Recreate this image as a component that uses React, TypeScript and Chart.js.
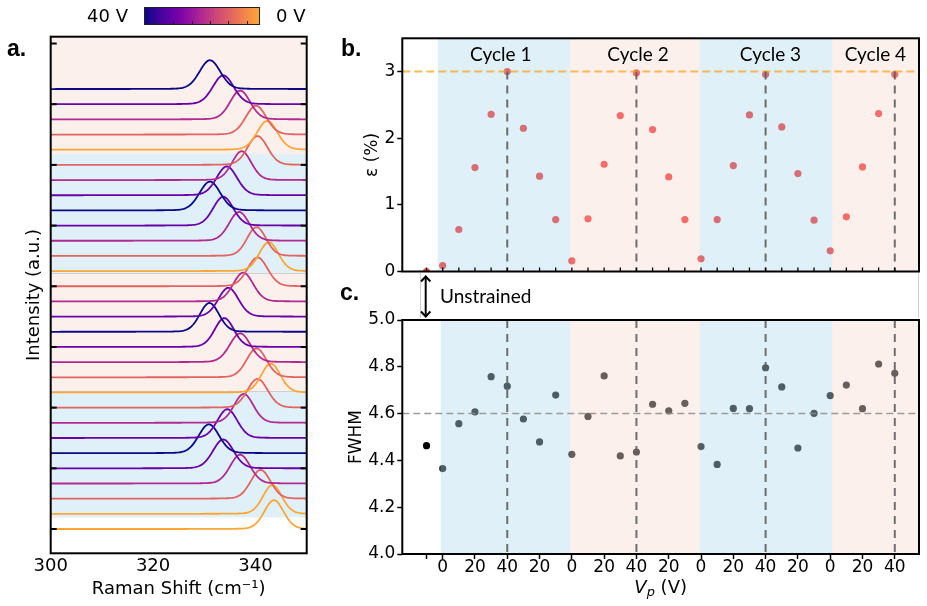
import React, { useEffect, useRef } from 'react';
import { Chart, registerables } from 'chart.js';
Chart.register(...registerables);

const FONT = '"DejaVu Sans", sans-serif';
Chart.defaults.font.family = FONT;
Chart.defaults.color = '#000';

// ---------------- data ----------------
// measurement index: -1 = unstrained reference, 0..28 = piezo sweeps (4 cycles)
const measIndex = [-1, 0, 1, 2, 3, 4, 5, 6, 7, 8, 9, 10, 11, 12, 13, 14, 15, 16, 17, 18, 19, 20, 21, 22, 23, 24, 25, 26, 27, 28];
const voltage = [0, 0, 10, 20, 30, 40, 30, 20, 10, 0, 10, 20, 30, 40, 30, 20, 10, 0, 10, 20, 30, 40, 30, 20, 10, 0, 10, 20, 30, 40];
const strain = [0, 0.09, 0.63, 1.56, 2.36, 3.0, 2.15, 1.43, 0.78, 0.16, 0.79, 1.61, 2.34, 2.98, 2.13, 1.42, 0.78, 0.19, 0.78, 1.59, 2.35, 2.96, 2.17, 1.47, 0.77, 0.31, 0.82, 1.57, 2.37, 2.96];
const fwhm = [4.463, 4.365, 4.557, 4.607, 4.758, 4.717, 4.577, 4.479, 4.679, 4.426, 4.588, 4.761, 4.419, 4.436, 4.64, 4.612, 4.644, 4.459, 4.383, 4.622, 4.621, 4.796, 4.714, 4.453, 4.601, 4.677, 4.722, 4.621, 4.812, 4.772];
const peakShift = [343.6, 343.3, 341.0, 337.0, 333.7, 330.9, 334.5, 337.7, 340.4, 343.0, 340.2, 337.0, 333.9, 331.0, 334.7, 337.6, 340.4, 342.6, 340.2, 336.8, 333.7, 331.1, 334.4, 337.3, 340.4, 342.3, 340.1, 337.0, 333.7, 331.1];
const peakAmplitude = 1.9;

const strainTicks = [0, 1, 2, 3];
const fwhmTicks = [4.0, 4.2, 4.4, 4.6, 4.8, 5.0];
const ramanTicks = [300, 320, 340];
const intensityTicks = [0, 4, 8, 12, 16, 20, 24, 28, 32];
const voltLabelTicks = [-1, 0, 2, 4, 6, 8, 10, 12, 14, 16, 18, 20, 22, 24, 26, 28];
const maxStrainLevel = 3.0;
const fwhmReference = 4.6;
const peakVoltIndex = [4, 12, 20, 28];
const cycleNames = ['Cycle 1', 'Cycle 2', 'Cycle 3', 'Cycle 4'];
const cycleLabelPos = [3.6, 12.1, 20.3, 26.8];
const bandKinds = ['blue', 'pink', 'blue', 'pink'];
const cycleBandsB = [[-0.3, 7.9], [7.9, 15.93], [15.93, 24.13], [24.13, 29.5]];
const cycleBandsC = [[-0.12, 7.9], [7.9, 15.93], [15.93, 24.13], [24.13, 29.5]];
const spectraBands = [[0.76, 9.07], [9.07, 16.88], [16.88, 24.72], [24.72, 33]];

const voltColor: Record<number, string> = { 0: '#fca636', 10: '#e16462', 20: '#b12a90', 30: '#6a00a8', 40: '#0d0887' };

const BLUE_SOLID = 'rgb(223,240,248)';
const PINK_SOLID = 'rgb(252,240,236)';
const BLUE_OVER = 'rgba(127,195,227,0.25)';
const PINK_OVER = 'rgba(243,195,179,0.25)';

// spectral sampling grid
const ramanGrid: number[] = [];
for (let x = 300; x <= 350.001; x += 0.25) ramanGrid.push(+x.toFixed(2));

function lineShape(x: number, c: number, w: number) {
  const d = (x - c) / w;
  return 0.9 * Math.exp(-4 * Math.LN2 * d * d) + 0.1 / (1 + 4 * d * d);
}

// ---------------- helpers ----------------
function frame(chart: any) {
  const { ctx, chartArea: a } = chart;
  ctx.save();
  ctx.strokeStyle = '#000';
  ctx.lineWidth = 2;
  ctx.strokeRect(a.left, a.top, a.right - a.left, a.bottom - a.top);
  ctx.restore();
}
function seg(ctx: CanvasRenderingContext2D, x1: number, y1: number, x2: number, y2: number) {
  ctx.beginPath();
  ctx.moveTo(x1, y1);
  ctx.lineTo(x2, y2);
  ctx.stroke();
}

// ---------------- panel a ----------------
const spectraPlugin = {
  id: 'spectraDecor',
  beforeDatasetsDraw(chart: any) {
    const { ctx, chartArea: a, scales: { y } } = chart;
    ctx.save();
    ctx.beginPath();
    ctx.rect(a.left, a.top, a.right - a.left, a.bottom - a.top);
    ctx.clip();
    spectraBands.forEach(([lo, hi], i) => {
      const y1 = y.getPixelForValue(hi);
      const y2 = y.getPixelForValue(lo);
      ctx.fillStyle = bandKinds[i] === 'blue' ? BLUE_SOLID : PINK_SOLID;
      ctx.fillRect(a.left, y1, a.right - a.left, y2 - y1);
    });
    ctx.strokeStyle = 'rgba(0,0,0,0.15)';
    ctx.lineWidth = 1;
    [spectraBands[1][0], spectraBands[2][0]].forEach((v) => {
      const py = Math.round(y.getPixelForValue(v)) + 0.5;
      seg(ctx, a.left, py, a.right, py);
    });
    ctx.restore();
  },
  afterDraw(chart: any) {
    const { ctx, chartArea: a, scales: { y } } = chart;
    ctx.save();
    ctx.strokeStyle = '#000';
    ctx.lineWidth = 2;
    intensityTicks.forEach((v) => {
      const py = y.getPixelForValue(v);
      seg(ctx, a.left, py, a.left + 6, py);
      seg(ctx, a.right - 6, py, a.right, py);
    });
    ctx.restore();
    frame(chart);
  },
};

// ---------------- panel b ----------------
const strainPlugin = {
  id: 'strainDecor',
  afterDatasetsDraw(chart: any) {
    const { ctx, chartArea: a, scales: { x, y } } = chart;
    ctx.save();
    ctx.beginPath();
    ctx.rect(a.left, a.top, a.right - a.left, a.bottom - a.top);
    ctx.clip();
    cycleBandsB.forEach(([lo, hi], i) => {
      const x1 = x.getPixelForValue(lo);
      const x2 = x.getPixelForValue(hi);
      ctx.fillStyle = bandKinds[i] === 'blue' ? BLUE_OVER : PINK_OVER;
      ctx.fillRect(x1, a.top, x2 - x1, a.bottom - a.top);
    });
    const y3 = y.getPixelForValue(maxStrainLevel);
    ctx.setLineDash([8, 4]);
    ctx.strokeStyle = 'rgba(245,165,35,0.75)';
    ctx.lineWidth = 2;
    seg(ctx, a.left, y3, a.right, y3);
    ctx.setLineDash([8, 6]);
    ctx.strokeStyle = 'rgba(95,95,95,0.9)';
    ctx.lineWidth = 2;
    peakVoltIndex.forEach((i) => {
      const px = x.getPixelForValue(i);
      seg(ctx, px, y3, px, a.bottom);
    });
    ctx.restore();
  },
  afterDraw(chart: any) {
    const { ctx, chartArea: a, scales: { x } } = chart;
    ctx.save();
    ctx.strokeStyle = '#000';
    ctx.lineWidth = 1.3;
    measIndex.forEach((i) => {
      const px = x.getPixelForValue(i);
      seg(ctx, px, a.bottom, px, a.bottom - 4);
    });
    ctx.fillStyle = '#000';
    ctx.font = '19px Lato, "Open Sans", sans-serif';
    ctx.textAlign = 'center';
    ctx.textBaseline = 'alphabetic';
    cycleNames.forEach((name, i) => {
      ctx.fillText(name, x.getPixelForValue(cycleLabelPos[i]), a.top + 23);
    });
    ctx.restore();
    frame(chart);
  },
};

// ---------------- panel c ----------------
const fwhmPlugin = {
  id: 'fwhmDecor',
  afterDatasetsDraw(chart: any) {
    const { ctx, chartArea: a, scales: { x, y } } = chart;
    ctx.save();
    ctx.beginPath();
    ctx.rect(a.left, a.top, a.right - a.left, a.bottom - a.top);
    ctx.clip();
    cycleBandsC.forEach(([lo, hi], i) => {
      const x1 = x.getPixelForValue(lo);
      const x2 = x.getPixelForValue(hi);
      ctx.fillStyle = bandKinds[i] === 'blue' ? BLUE_OVER : PINK_OVER;
      ctx.fillRect(x1, a.top, x2 - x1, a.bottom - a.top);
    });
    const yr = y.getPixelForValue(fwhmReference);
    ctx.setLineDash([7, 4]);
    ctx.strokeStyle = 'rgba(140,140,140,0.85)';
    ctx.lineWidth = 1.5;
    seg(ctx, a.left, yr, a.right, yr);
    ctx.setLineDash([8, 6]);
    ctx.strokeStyle = 'rgba(95,95,95,0.9)';
    ctx.lineWidth = 2;
    peakVoltIndex.forEach((i) => {
      const px = x.getPixelForValue(i);
      seg(ctx, px, a.top, px, a.bottom);
    });
    ctx.restore();
  },
  afterDraw(chart: any) {
    const { ctx, chartArea: a } = chart;
    frame(chart);
    // x-axis title: V_p (V)
    ctx.save();
    ctx.fillStyle = '#000';
    ctx.textBaseline = 'alphabetic';
    ctx.textAlign = 'left';
    const fMain = `italic 18px ${FONT}`;
    const fSub = `italic 13px ${FONT}`;
    const fRest = `18px ${FONT}`;
    ctx.font = fMain;
    const wV = ctx.measureText('V').width;
    ctx.font = fSub;
    const wP = ctx.measureText('p').width;
    ctx.font = fRest;
    const wR = ctx.measureText(' (V)').width;
    const total = wV + wP + wR;
    let cx = (a.left + a.right) / 2 - total / 2;
    const base = chart.height - 13;
    ctx.font = fMain;
    ctx.fillText('V', cx, base);
    cx += wV;
    ctx.font = fSub;
    ctx.fillText('p', cx, base + 3);
    cx += wP;
    ctx.font = fRest;
    ctx.fillText(' (V)', cx, base);
    ctx.restore();
  },
};

function useChart(ref: React.RefObject<HTMLCanvasElement>, make: () => any) {
  useEffect(() => {
    if (!ref.current) return;
    const chart = new Chart(ref.current, make());
    return () => chart.destroy();
  }, []);
}

export default function App() {
  const refA = useRef<HTMLCanvasElement>(null);
  const refB = useRef<HTMLCanvasElement>(null);
  const refC = useRef<HTMLCanvasElement>(null);

  useChart(refA, () => {
    const datasets: any[] = [];
    for (let k = peakShift.length - 1; k >= 0; k--) {
      datasets.push({
        data: ramanGrid.map((x) => ({ x, y: k + peakAmplitude * lineShape(x, peakShift[k], fwhm[k]) })),
        borderColor: voltColor[voltage[k]],
        borderWidth: 1.8,
        pointRadius: 0,
        showLine: true,
        fill: false,
      });
    }
    return {
      type: 'scatter',
      data: { datasets },
      options: {
        animation: false,
        responsive: false,
        layout: { padding: { top: 36.7, right: 13.3, left: 0, bottom: 0 } },
        plugins: { legend: { display: false }, tooltip: { enabled: false } },
        scales: {
          x: {
            type: 'linear', min: 300, max: 350,
            afterBuildTicks: (s: any) => { s.ticks = ramanTicks.map((v) => ({ value: v })); },
            ticks: { font: { size: 18, lineHeight: 1 }, color: '#000', padding: -4, maxRotation: 0 },
            grid: { display: false }, border: { display: false },
            title: { display: true, text: 'Raman Shift (cm⁻¹)', font: { size: 18, lineHeight: 1 }, color: '#000', padding: { top: 0, bottom: 8 } },
            afterFit: (s: any) => { s.height = 52.7; },
          },
          y: {
            type: 'linear', min: -1.6, max: 32.45,
            ticks: { display: false }, grid: { display: false }, border: { display: false },
            title: { display: true, text: 'Intensity (a.u.)', font: { size: 18, lineHeight: 1 }, color: '#000', padding: { top: 25, bottom: 0 } },
            afterFit: (s: any) => { s.width = 50.7; },
          },
        },
      },
      plugins: [spectraPlugin],
    };
  });

  useChart(refB, () => ({
    type: 'scatter',
    data: {
      datasets: [{
        data: measIndex.map((x, i) => ({ x, y: strain[i] })),
        backgroundColor: 'rgb(245,80,80)',
        borderWidth: 0,
        pointRadius: 3.6,
        clip: 0,
      }],
    },
    options: {
      animation: false,
      responsive: false,
      layout: { padding: { top: 18.3, right: 8, left: 0, bottom: 0 } },
      plugins: { legend: { display: false }, tooltip: { enabled: false } },
      scales: {
        x: {
          type: 'linear', min: -2.5, max: 29.5,
          ticks: { display: false }, grid: { display: false }, border: { display: false },
          afterFit: (s: any) => { s.height = 9.7; },
        },
        y: {
          type: 'linear', min: 0, max: 3.5,
          afterBuildTicks: (s: any) => { s.ticks = strainTicks.map((v) => ({ value: v })); },
          ticks: { font: { size: 17, lineHeight: 1 }, color: '#000', padding: 2 },
          grid: { drawOnChartArea: false, color: '#000', tickLength: 5, tickWidth: 1.5 },
          border: { display: false },
          title: { display: true, text: 'ε (%)', font: { size: 17, lineHeight: 1 }, color: '#000', padding: { top: 34, bottom: 0 } },
          afterFit: (s: any) => { s.width = 72.3; },
        },
      },
    },
    plugins: [strainPlugin],
  }));

  useChart(refC, () => ({
    type: 'scatter',
    data: {
      datasets: [{
        data: measIndex.map((x, i) => ({ x, y: fwhm[i] })),
        backgroundColor: measIndex.map((i) => (i < 0 ? '#000' : '#3c3c3c')),
        borderWidth: 0,
        pointRadius: 3.6,
      }],
    },
    options: {
      animation: false,
      responsive: false,
      layout: { padding: { top: 20, right: 8, left: 0, bottom: 0 } },
      plugins: { legend: { display: false }, tooltip: { enabled: false } },
      scales: {
        x: {
          type: 'linear', min: -2.5, max: 29.5,
          afterBuildTicks: (s: any) => { s.ticks = voltLabelTicks.map((v) => ({ value: v })); },
          ticks: {
            font: { size: 17, lineHeight: 1 }, color: '#000', padding: 0, maxRotation: 0, autoSkip: false,
            callback: (v: any) => { const i = measIndex.indexOf(v); return v < 0 || i < 0 ? '' : String(voltage[i]); },
          },
          grid: { drawOnChartArea: false, color: '#000', tickLength: 5, tickWidth: 1.5 },
          border: { display: false },
          afterFit: (s: any) => { s.height = 52; },
        },
        y: {
          type: 'linear', min: 4.0, max: 5.0,
          afterBuildTicks: (s: any) => { s.ticks = fwhmTicks.map((v) => ({ value: v })); },
          ticks: { font: { size: 17, lineHeight: 1 }, color: '#000', padding: 2, callback: (v: any) => Number(v).toFixed(1) },
          grid: { drawOnChartArea: false, color: '#000', tickLength: 5, tickWidth: 1.5 },
          border: { display: false },
          title: { display: true, text: 'FWHM', font: { size: 17, lineHeight: 1 }, color: '#000', padding: { top: 18, bottom: 0 } },
          afterFit: (s: any) => { s.width = 72.3; },
        },
      },
    },
    plugins: [fwhmPlugin],
  }));

  const abs = (l: number, t: number, extra: React.CSSProperties = {}): React.CSSProperties => ({
    position: 'absolute', left: l, top: t, lineHeight: 1, whiteSpace: 'nowrap', ...extra,
  });
  const cbTicks = [0, 1, 2, 3, 4, 5];

  return (
    <div style={{ position: 'absolute', left: 0, top: 0, width: 927, height: 606, background: '#fff', overflow: 'hidden', fontFamily: FONT }}>
      <canvas ref={refA} width={320} height={606} style={abs(0, 0, { width: 320, height: 606 })} />
      <canvas ref={refB} width={597} height={262} style={abs(330, 20, { width: 597, height: 262 })} />
      <canvas ref={refC} width={597} height={306} style={abs(330, 300, { width: 597, height: 306 })} />

      {/* colorbar */}
      <div style={abs(87, 6.5, { fontSize: 18 })}>40 V</div>
      <div style={abs(276, 6.5, { fontSize: 18 })}>0 V</div>
      <div style={abs(144, 7, {
        width: 116, height: 18, boxSizing: 'border-box', border: '1px solid #222',
        background: 'linear-gradient(to right, #0d0887, #41049d, #6a00a8, #8f0da4, #b12a90, #cc4778, #e16462, #f2844b, #fca636)',
      })}>
        {cbTicks.map((i) => (
          <div key={i} style={{ position: 'absolute', left: 10 + i * 18.3, bottom: 0, width: 1, height: 3, background: '#222' }} />
        ))}
      </div>

      {/* panel letters */}
      <div style={abs(7, 37, { fontSize: 23, fontWeight: 'bold', fontFamily: '"Liberation Sans", Arial, sans-serif' })}>a.</div>
      <div style={abs(341, 36.5, { fontSize: 23, fontWeight: 'bold', fontFamily: '"Liberation Sans", Arial, sans-serif' })}>b.</div>
      <div style={abs(340, 281.2, { fontSize: 23, fontWeight: 'bold', fontFamily: '"Liberation Sans", Arial, sans-serif' })}>c.</div>

      {/* unstrained annotation */}
      <div style={abs(420, 273, { width: 499, height: 45, borderLeft: '1px solid #cfcfcf', borderRight: '1px solid #cfcfcf', boxSizing: 'border-box' })} />
      <div style={abs(440, 285.5, { fontSize: 19, fontFamily: 'Lato, "Open Sans", sans-serif' })}>Unstrained</div>
      <svg style={abs(418, 273)} width={16} height={47}>
        <line x1={7.7} y1={4} x2={7.7} y2={43} stroke="#000" strokeWidth={2} />
        <polyline points="3,8.5 7.7,3.5 12.4,8.5" fill="none" stroke="#000" strokeWidth={2} />
        <polyline points="3,38.5 7.7,43.5 12.4,38.5" fill="none" stroke="#000" strokeWidth={2} />
      </svg>
    </div>
  );
}
